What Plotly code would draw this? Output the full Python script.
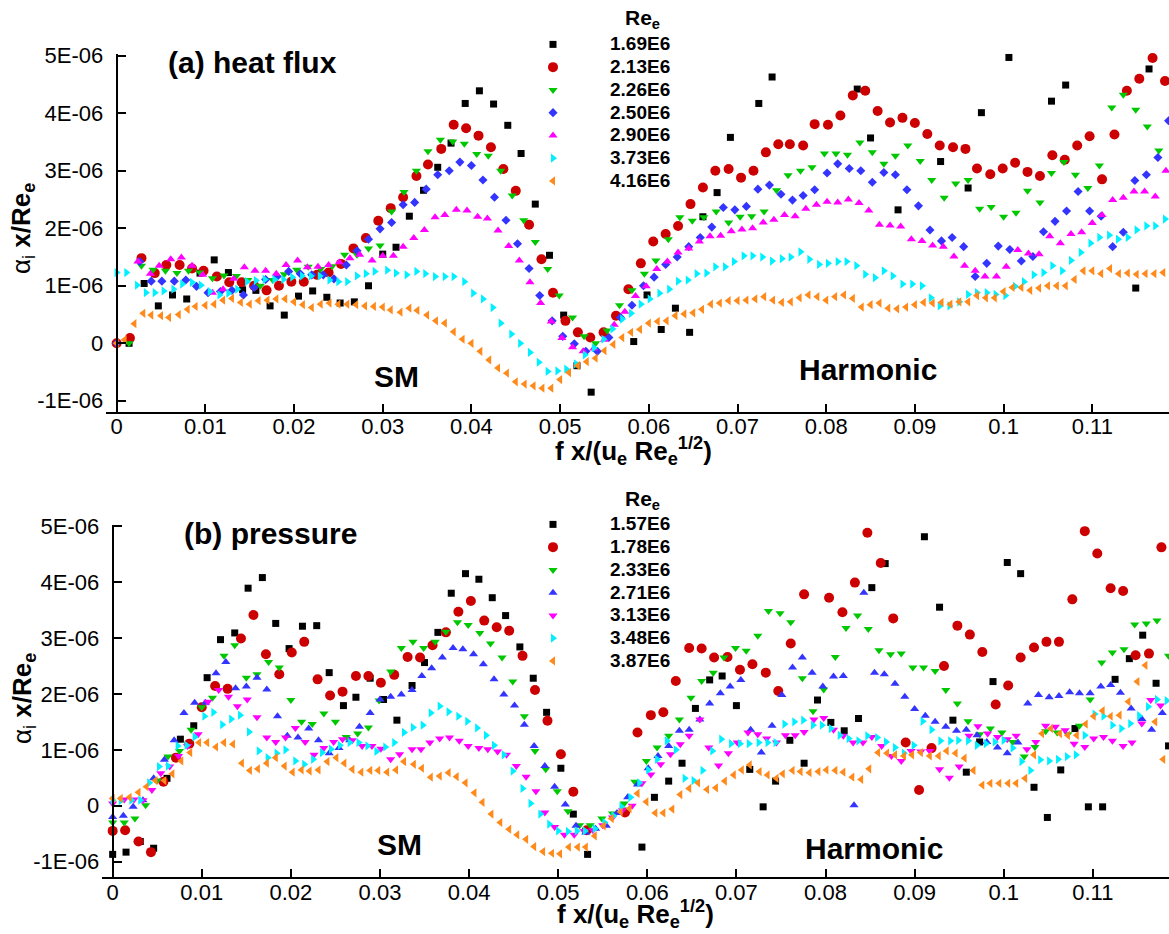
import plotly.graph_objects as go

XS = 1e-2   # frequency values below are stored in units of 0.01
YS = 1e-6   # growth-rate values below are stored in units of 1E-06

# ---------------- (a) heat flux ----------------
hf_169_x = [0.14, 0.31, 0.47, 0.63, 0.79, 0.94, 1.10, 1.26, 1.42, 1.57, 1.73, 1.89, 2.05, 2.21, 2.37, 2.52, 2.68, 2.84, 3.00, 3.15,
            3.30, 3.46, 3.62, 3.77, 3.93, 4.09, 4.25, 4.41, 4.56, 4.72, 4.88, 5.04, 5.19, 5.35, 5.83, 5.98, 6.14, 6.30, 6.46, 6.61,
            6.77, 6.92, 7.24, 7.39, 8.35, 8.50, 8.81, 9.29, 9.60, 9.75, 10.06, 10.54, 10.70, 11.49, 11.64]
hf_169_y = [0.00, 1.04, 0.65, 0.84, 0.77, 1.22, 1.45, 1.23, 0.93, 0.92, 0.65, 0.49, 0.82, 0.91, 0.80, 0.70, 0.72, 1.00, 1.55, 1.67,
            2.21, 2.66, 3.06, 3.48, 4.17, 4.39, 4.16, 3.79, 3.30, 2.42, 1.53, 0.49, -0.39, -0.85, 0.03, 0.84, 0.24, 0.61, 0.19, 2.20,
            2.62, 3.58, 4.17, 4.63, 4.42, 3.57, 2.32, 3.16, 2.70, 4.01, 4.97, 4.21, 4.49, 0.96, 4.77]

hf_213_x = [0.00, 0.15, 0.28, 0.43, 0.56, 0.71, 0.85, 0.98, 1.13, 1.27, 1.41, 1.55, 1.69, 1.83, 1.97, 2.11, 2.26, 2.39, 2.53, 2.67,
            2.81, 2.95, 3.09, 3.23, 3.38, 3.51, 3.66, 3.80, 3.94, 4.08, 4.22, 4.36, 4.50, 4.65, 4.79, 4.92, 5.06, 5.20, 5.34, 5.49,
            5.63, 5.77, 5.91, 6.05, 6.19, 6.33, 6.47, 6.61, 6.75, 6.90, 7.04, 7.18, 7.32, 7.46, 7.59, 7.74, 7.87, 8.02, 8.16, 8.30,
            8.44, 8.58, 8.72, 8.86, 9.00, 9.14, 9.28, 9.43, 9.57, 9.70, 9.85, 9.99, 10.13, 10.27, 10.41, 10.55, 10.69, 10.83, 10.97, 11.11,
            11.25, 11.39, 11.53, 11.68, 11.82]
hf_213_y = [0.00, 0.09, 1.48, 1.22, 1.36, 1.36, 1.30, 1.26, 1.16, 1.06, 1.06, 1.00, 0.92, 1.00, 1.07, 1.07, 1.19, 1.23, 1.38, 1.65,
            1.83, 2.13, 2.35, 2.54, 2.91, 3.11, 3.38, 3.80, 3.74, 3.61, 3.41, 3.03, 2.65, 2.06, 1.46, 0.88, 0.39, 0.19, 0.10, 0.19,
            0.48, 0.94, 1.39, 1.77, 1.90, 2.04, 2.42, 2.71, 3.00, 3.03, 2.88, 3.00, 3.32, 3.46, 3.46, 3.44, 3.81, 3.80, 3.96, 4.31,
            4.39, 4.04, 3.84, 3.92, 3.83, 3.64, 3.44, 3.41, 3.38, 3.04, 2.94, 3.04, 3.14, 2.98, 2.91, 3.27, 3.19, 3.44, 3.60, 2.85,
            3.63, 4.39, 4.60, 4.96, 4.56]

hf_226_x = [0.14, 0.28, 0.41, 0.55, 0.68, 0.81, 0.94, 1.08, 1.21, 1.35, 1.48, 1.62, 1.76, 1.89, 2.03, 2.16, 2.30, 2.43, 2.57, 2.71,
            2.84, 2.97, 3.10, 3.24, 3.38, 3.51, 3.65, 3.79, 3.92, 4.06, 4.19, 4.33, 4.46, 4.59, 4.72, 4.86, 4.99, 5.14, 5.27, 5.40,
            5.53, 5.67, 5.81, 5.95, 6.08, 6.22, 6.35, 6.49, 6.62, 6.76, 6.90, 7.03, 7.16, 7.30, 7.44, 7.57, 7.71, 7.84, 7.98, 8.11,
            8.24, 8.38, 8.52, 8.65, 8.78, 8.92, 9.06, 9.19, 9.33, 9.46, 9.60, 9.73, 9.86, 10.00, 10.14, 10.27, 10.41, 10.54, 10.68, 10.81,
            10.95, 11.08, 11.22, 11.35, 11.49, 11.62, 11.75]
hf_226_y = [0.00, 1.35, 1.28, 1.26, 1.22, 1.26, 1.23, 1.13, 1.18, 1.17, 1.10, 1.00, 1.10, 1.20, 1.28, 1.33, 1.29, 1.34, 1.54, 1.54,
            1.65, 1.70, 2.29, 2.63, 3.00, 3.34, 3.54, 3.51, 3.47, 3.29, 3.26, 3.00, 2.57, 2.14, 1.76, 1.29, 0.83, 0.45, 0.12, 0.00,
            0.22, 0.66, 0.92, 1.21, 1.44, 1.81, 2.19, 2.13, 2.19, 2.29, 2.10, 2.20, 2.21, 2.29, 2.66, 2.92, 3.00, 3.06, 3.30, 3.30,
            3.28, 3.49, 3.32, 3.12, 3.26, 3.44, 3.17, 2.84, 2.53, 2.78, 2.84, 2.34, 2.37, 2.20, 2.27, 2.65, 2.45, 2.96, 3.15, 2.93,
            2.70, 3.09, 4.10, 4.32, 4.06, 3.77, 3.35]

hf_250_x = [0.00, 0.26, 0.39, 0.51, 0.65, 0.78, 0.90, 1.03, 1.17, 1.30, 1.43, 1.55, 1.68, 1.81, 1.94, 2.07, 2.20, 2.33, 2.45, 2.59,
            2.71, 2.84, 2.97, 3.10, 3.23, 3.36, 3.49, 3.62, 3.75, 3.87, 4.00, 4.13, 4.26, 4.39, 4.52, 4.65, 4.77, 4.91, 5.03, 5.16,
            5.29, 5.42, 5.55, 5.68, 5.81, 5.94, 6.06, 6.19, 6.32, 6.45, 6.58, 6.71, 6.84, 6.97, 7.10, 7.23, 7.36, 7.49, 7.62, 7.74,
            7.87, 8.01, 8.13, 8.26, 8.39, 8.52, 8.65, 8.78, 8.91, 9.04, 9.17, 9.30, 9.42, 9.55, 9.68, 9.81, 9.94, 10.07, 10.20, 10.33,
            10.45, 10.58, 10.71, 10.84, 10.97, 11.10, 11.23, 11.35, 11.48, 11.61, 11.74, 11.86]
hf_250_y = [0.00, 1.42, 1.08, 1.08, 1.08, 1.10, 0.99, 0.88, 0.90, 0.92, 0.84, 0.97, 1.11, 1.16, 1.25, 1.21, 1.19, 1.19, 1.12, 1.36,
            1.61, 1.81, 1.99, 2.10, 2.41, 2.45, 2.68, 2.93, 3.00, 3.15, 3.09, 2.84, 2.54, 2.14, 1.73, 1.30, 0.83, 0.39, 0.12, -0.01,
            -0.14, -0.14, 0.10, 0.45, 0.66, 1.00, 1.15, 1.37, 1.50, 1.68, 1.84, 2.02, 2.36, 2.32, 2.38, 2.68, 2.75, 2.59, 2.49, 2.57,
            2.67, 2.96, 3.12, 3.04, 3.00, 2.80, 2.97, 2.93, 2.67, 2.39, 1.97, 1.78, 1.84, 1.68, 1.16, 1.39, 1.69, 1.63, 1.43, 1.51,
            1.94, 2.12, 2.30, 2.64, 2.30, 2.21, 1.68, 1.93, 2.83, 2.93, 3.23, 3.87]

hf_290_x = [0.24, 0.38, 0.48, 0.61, 0.73, 0.85, 0.97, 1.08, 1.20, 1.32, 1.44, 1.56, 1.68, 1.80, 1.91, 2.04, 2.15, 2.27, 2.39, 2.51,
            2.63, 2.74, 2.88, 3.00, 3.12, 3.23, 3.35, 3.47, 3.59, 3.70, 3.83, 3.95, 4.07, 4.18, 4.30, 4.42, 4.54, 4.66, 4.78, 4.90,
            5.02, 5.14, 5.26, 5.38, 5.50, 5.61, 5.73, 5.85, 5.97, 6.09, 6.21, 6.33, 6.45, 6.57, 6.69, 6.81, 6.93, 7.05, 7.17, 7.29,
            7.41, 7.53, 7.65, 7.77, 7.89, 8.01, 8.13, 8.25, 8.37, 8.48, 8.60, 8.72, 8.84, 8.96, 9.08, 9.20, 9.32, 9.44, 9.56, 9.68,
            9.79, 9.92, 10.03, 10.16, 10.28, 10.40, 10.52, 10.64, 10.76, 10.88, 11.00, 11.11, 11.23, 11.35, 11.47, 11.59, 11.71, 11.83]
hf_290_y = [1.42, 1.21, 1.35, 1.46, 1.49, 1.35, 1.19, 0.88, 0.94, 1.12, 1.32, 1.26, 1.26, 1.21, 1.36, 1.44, 1.32, 1.33, 1.36, 1.41,
            1.48, 1.54, 1.44, 1.52, 1.52, 1.68, 1.83, 1.97, 2.19, 2.23, 2.32, 2.31, 2.20, 2.17, 1.96, 1.69, 1.44, 1.06, 0.70, 0.38,
            0.09, -0.07, -0.14, -0.09, 0.06, 0.32, 0.55, 0.82, 0.99, 1.29, 1.42, 1.58, 1.65, 1.77, 1.86, 1.87, 1.95, 1.98, 2.00, 2.10,
            2.15, 2.23, 2.21, 2.34, 2.41, 2.46, 2.45, 2.50, 2.44, 2.31, 2.06, 2.05, 2.03, 1.81, 1.78, 1.70, 1.68, 1.51, 1.35, 1.26,
            1.16, 1.16, 1.33, 1.62, 1.56, 1.55, 1.86, 1.74, 1.90, 1.93, 2.09, 2.23, 2.49, 2.53, 2.64, 2.64, 2.55, 3.00]

hf_373_x = [0.00, 0.11, 0.23, 0.33, 0.43, 0.53, 0.64, 0.74, 0.85, 0.95, 1.05, 1.16, 1.26, 1.36, 1.47, 1.57, 1.67, 1.78, 1.88, 1.98,
            2.09, 2.19, 2.29, 2.40, 2.50, 2.60, 2.71, 2.81, 2.91, 3.05, 3.15, 3.27, 3.38, 3.48, 3.59, 3.70, 3.80, 3.92, 4.02, 4.13,
            4.24, 4.33, 4.45, 4.55, 4.66, 4.76, 4.86, 4.97, 5.07, 5.18, 5.28, 5.38, 5.49, 5.59, 5.70, 5.80, 5.91, 6.01, 6.12, 6.23,
            6.33, 6.44, 6.54, 6.65, 6.75, 6.86, 6.96, 7.07, 7.17, 7.28, 7.39, 7.50, 7.60, 7.71, 7.81, 7.92, 8.02, 8.13, 8.23, 8.34,
            8.44, 8.55, 8.65, 8.75, 8.86, 8.97, 9.08, 9.18, 9.28, 9.39, 9.50, 9.60, 9.70, 9.81, 9.91, 10.02, 10.13, 10.23, 10.34, 10.45,
            10.55, 10.66, 10.76, 10.87, 10.98, 11.08, 11.19, 11.29, 11.40, 11.50, 11.61, 11.71, 11.82]
hf_373_y = [1.23, 1.23, 1.01, 0.88, 0.88, 0.91, 0.94, 1.03, 1.06, 1.01, 0.90, 0.84, 0.87, 0.94, 1.07, 1.09, 1.11, 1.11, 1.11, 1.15,
            1.17, 1.17, 1.17, 1.10, 1.07, 1.07, 1.17, 1.21, 1.25, 1.27, 1.22, 1.19, 1.25, 1.21, 1.16, 1.16, 1.16, 1.07, 0.87, 0.77,
            0.62, 0.35, 0.16, 0.00, -0.16, -0.33, -0.49, -0.48, -0.45, -0.36, -0.20, -0.08, 0.07, 0.25, 0.42, 0.52, 0.68, 0.77, 0.87, 0.94,
            1.08, 1.10, 1.21, 1.22, 1.33, 1.33, 1.42, 1.52, 1.52, 1.50, 1.43, 1.47, 1.50, 1.59, 1.46, 1.37, 1.39, 1.42, 1.42, 1.35,
            1.20, 1.14, 1.26, 1.17, 1.03, 1.03, 1.00, 0.79, 0.65, 0.65, 0.72, 0.85, 0.88, 0.88, 0.85, 0.83, 0.99, 1.07, 1.19, 1.23,
            1.35, 1.26, 1.44, 1.58, 1.74, 1.84, 1.88, 1.81, 1.84, 1.97, 2.04, 2.04, 2.16]

hf_416_x = [0.00, 0.09, 0.20, 0.30, 0.39, 0.50, 0.59, 0.70, 0.80, 0.89, 1.00, 1.10, 1.20, 1.30, 1.40, 1.50, 1.60, 1.70, 1.80, 1.90,
            2.00, 2.10, 2.20, 2.30, 2.40, 2.50, 2.60, 2.70, 2.80, 2.90, 3.00, 3.09, 3.20, 3.30, 3.39, 3.50, 3.60, 3.70, 3.80, 3.90,
            4.00, 4.10, 4.20, 4.30, 4.40, 4.50, 4.60, 4.70, 4.80, 4.90, 5.00, 5.10, 5.20, 5.30, 5.40, 5.50, 5.60, 5.70, 5.80, 5.90,
            6.00, 6.10, 6.20, 6.30, 6.40, 6.50, 6.60, 6.70, 6.80, 6.90, 7.00, 7.10, 7.20, 7.30, 7.40, 7.50, 7.60, 7.70, 7.80, 7.90,
            8.00, 8.10, 8.20, 8.30, 8.40, 8.50, 8.60, 8.70, 8.80, 8.90, 9.00, 9.10, 9.20, 9.30, 9.40, 9.50, 9.60, 9.70, 9.80, 9.90,
            10.00, 10.10, 10.20, 10.30, 10.40, 10.50, 10.60, 10.70, 10.80, 10.90, 11.00, 11.10, 11.20, 11.30, 11.40, 11.50, 11.60, 11.70, 11.80]
hf_416_y = [0.00, 0.06, 0.34, 0.52, 0.49, 0.48, 0.45, 0.50, 0.59, 0.64, 0.66, 0.68, 0.75, 0.78, 0.71, 0.68, 0.74, 0.75, 0.77, 0.77,
            0.72, 0.67, 0.62, 0.68, 0.70, 0.68, 0.68, 0.67, 0.65, 0.64, 0.63, 0.58, 0.54, 0.61, 0.57, 0.49, 0.39, 0.35, 0.20, 0.07,
            0.00, -0.14, -0.29, -0.43, -0.52, -0.67, -0.71, -0.74, -0.78, -0.78, -0.63, -0.51, -0.39, -0.32, -0.26, -0.13, -0.02, 0.10, 0.19, 0.24,
            0.35, 0.38, 0.39, 0.48, 0.51, 0.53, 0.59, 0.68, 0.70, 0.74, 0.74, 0.75, 0.77, 0.81, 0.75, 0.71, 0.72, 0.79, 0.84, 0.81,
            0.75, 0.81, 0.84, 0.78, 0.63, 0.67, 0.70, 0.61, 0.60, 0.63, 0.67, 0.71, 0.70, 0.71, 0.68, 0.72, 0.72, 0.83, 0.79, 0.79,
            0.90, 0.97, 0.97, 0.92, 0.96, 1.00, 1.00, 1.00, 1.11, 1.26, 1.26, 1.21, 1.30, 1.21, 1.22, 1.20, 1.21, 1.21, 1.23]

# ---------------- (b) pressure ----------------
pr_157_x = [0.00, 0.15, 0.31, 0.46, 0.61, 0.76, 0.91, 1.06, 1.21, 1.37, 1.52, 1.68, 1.83, 1.98, 2.13, 2.29, 2.43, 2.59, 2.73, 2.89,
            3.04, 3.19, 3.36, 3.50, 3.65, 3.80, 3.96, 4.11, 4.26, 4.41, 4.57, 4.72, 4.87, 5.03, 5.17, 5.33, 5.94, 6.08, 6.24, 6.39,
            6.54, 6.70, 6.84, 7.00, 7.15, 7.30, 7.44, 7.60, 7.76, 7.91, 8.06, 8.21, 8.37, 8.52, 8.67, 9.11, 9.28, 9.43, 9.58, 9.73,
            9.88, 10.04, 10.19, 10.34, 10.49, 10.64, 10.80, 10.95, 11.11, 11.25, 11.41, 11.56, 11.71, 11.85]
pr_157_y = [-0.87, -0.83, -0.64, -0.76, 0.49, 1.19, 1.43, 2.29, 2.97, 3.09, 3.89, 4.08, 3.26, 2.81, 3.21, 3.22, 2.38, 1.79, 1.94, 2.28,
            1.90, 1.53, 2.15, 2.56, 3.10, 3.80, 4.15, 4.05, 3.72, 3.40, 2.84, 2.28, 1.67, 0.67, -0.15, -0.87, -0.74, 0.15, 0.44, 0.76,
            1.74, 2.25, 2.32, 1.79, 0.65, -0.02, 0.44, 1.17, 0.76, 1.89, 1.49, 1.34, 1.56, 3.90, 4.33, 4.81, 3.55, 1.53, 0.60, 1.14,
            2.22, 4.35, 4.15, 0.33, -0.21, 0.64, 1.38, -0.02, -0.02, 2.26, 2.63, 3.05, 2.19, 1.07]

pr_178_x = [0.00, 0.14, 0.29, 0.43, 0.57, 0.71, 0.86, 1.00, 1.15, 1.29, 1.44, 1.58, 1.72, 1.87, 2.01, 2.15, 2.30, 2.44, 2.58, 2.73,
            2.87, 3.01, 3.16, 3.31, 3.45, 3.59, 3.74, 3.88, 4.02, 4.17, 4.31, 4.45, 4.60, 4.74, 4.88, 5.03, 5.17, 5.32, 5.75, 5.89,
            6.04, 6.18, 6.32, 6.47, 6.61, 6.75, 6.90, 7.04, 7.18, 7.33, 7.47, 7.61, 7.76, 8.04, 8.19, 8.33, 8.47, 8.62, 8.76, 8.90,
            9.05, 9.19, 9.33, 9.48, 9.62, 9.76, 9.91, 10.05, 10.19, 10.34, 10.48, 10.62, 10.77, 10.91, 11.05, 11.20, 11.34, 11.48, 11.63, 11.77]
pr_178_y = [-0.45, -0.44, -0.64, -0.83, 0.43, 0.86, 1.11, 1.76, 2.14, 2.09, 2.99, 3.41, 2.71, 2.35, 2.74, 2.93, 2.26, 1.97, 2.04, 2.32,
            2.32, 2.20, 2.34, 2.66, 2.65, 2.87, 3.10, 3.47, 3.66, 3.31, 3.19, 3.13, 2.68, 2.07, 1.52, 0.92, 0.25, -0.44, -0.12, 1.31,
            1.62, 1.67, 2.23, 2.82, 2.81, 2.65, 2.66, 2.43, 2.53, 2.38, 2.05, 2.90, 3.78, 3.72, 3.46, 3.99, 4.88, 4.34, 3.35, 1.13,
            0.28, 1.03, 2.50, 3.22, 3.06, 2.75, 1.81, 2.15, 2.65, 2.83, 2.93, 2.93, 3.69, 4.91, 4.51, 3.89, 3.84, 2.69, 2.72, 4.62]

pr_233_x = [0.00, 0.13, 0.25, 0.37, 0.50, 0.62, 0.75, 0.88, 1.00, 1.12, 1.25, 1.37, 1.50, 1.62, 1.75, 1.87, 2.00, 2.12, 2.24, 2.37,
            2.50, 2.62, 2.75, 2.87, 2.99, 3.12, 3.24, 3.37, 3.49, 3.62, 3.74, 3.87, 3.99, 4.12, 4.24, 4.37, 4.49, 4.62, 4.74, 4.86,
            4.99, 5.11, 5.24, 5.36, 5.49, 5.61, 5.74, 5.86, 5.99, 6.11, 6.24, 6.36, 6.49, 6.61, 6.74, 6.86, 6.99, 7.11, 7.24, 7.36,
            7.49, 7.61, 7.74, 7.86, 7.98, 8.11, 8.23, 8.36, 8.48, 8.60, 8.73, 8.85, 8.98, 9.10, 9.23, 9.35, 9.48, 9.60, 9.73, 9.85,
            9.98, 10.10, 10.23, 10.35, 10.47, 10.60, 10.72, 10.85, 10.97, 11.10, 11.22, 11.35, 11.47, 11.60, 11.72, 11.85]
pr_233_y = [-0.30, -0.30, -0.23, 0.01, 0.45, 0.88, 0.98, 1.36, 1.76, 1.93, 2.68, 2.87, 2.29, 2.35, 2.57, 2.47, 1.89, 1.50, 1.46, 1.65,
            1.50, 1.23, 1.29, 1.40, 1.88, 2.40, 2.82, 2.93, 2.82, 2.93, 3.11, 3.28, 3.23, 3.09, 2.90, 2.65, 2.22, 1.60, 0.98, 0.65,
            0.26, -0.10, -0.35, -0.35, -0.23, -0.14, 0.04, 0.43, 0.80, 1.04, 1.25, 1.54, 1.93, 2.23, 2.38, 2.65, 2.82, 2.77, 3.04, 3.48,
            3.44, 3.28, 2.28, 1.69, 2.08, 2.66, 3.18, 3.40, 3.16, 2.78, 2.71, 2.72, 2.47, 2.47, 2.41, 2.07, 1.83, 1.51, 1.28, 1.38,
            1.31, 1.14, 0.88, 1.05, 1.33, 1.31, 1.28, 1.43, 1.90, 2.56, 2.74, 2.80, 3.24, 3.26, 3.31, 2.68]

pr_271_x = [0.00, 0.12, 0.23, 0.34, 0.46, 0.58, 0.69, 0.80, 0.92, 1.04, 1.16, 1.27, 1.38, 1.50, 1.62, 1.73, 1.85, 1.96, 2.08, 2.20,
            2.31, 2.43, 2.54, 2.66, 2.77, 2.89, 3.00, 3.12, 3.24, 3.36, 3.47, 3.58, 3.70, 3.82, 3.93, 4.05, 4.16, 4.28, 4.39, 4.51,
            4.62, 4.73, 4.85, 4.96, 5.08, 5.20, 5.31, 5.42, 5.54, 5.66, 5.78, 5.89, 6.01, 6.12, 6.24, 6.36, 6.47, 6.59, 6.70, 6.82,
            6.93, 7.05, 7.16, 7.28, 7.40, 7.51, 7.63, 7.74, 7.85, 7.97, 8.09, 8.20, 8.32, 8.43, 8.55, 8.66, 8.78, 8.89, 9.00, 9.12,
            9.23, 9.35, 9.47, 9.58, 9.70, 9.81, 9.93, 10.04, 10.16, 10.27, 10.39, 10.51, 10.62, 10.74, 10.85, 10.97, 11.09, 11.20, 11.31, 11.43,
            11.55, 11.66, 11.78]
pr_271_y = [-0.20, -0.18, -0.02, 0.10, 0.49, 0.82, 1.17, 1.66, 1.84, 1.84, 2.37, 2.57, 2.10, 2.13, 2.29, 2.08, 1.60, 1.25, 1.22, 1.38,
            1.17, 0.94, 1.03, 1.17, 1.41, 1.66, 1.90, 1.95, 1.99, 2.07, 2.32, 2.46, 2.65, 2.82, 2.80, 2.71, 2.53, 2.26, 1.99, 1.79,
            1.45, 1.07, 0.71, 0.34, 0.02, -0.36, -0.48, -0.41, -0.36, -0.13, 0.15, 0.38, 0.67, 0.89, 1.07, 1.34, 1.36, 1.54, 1.83, 2.01,
            2.13, 2.25, 1.36, 0.95, 1.43, 1.98, 2.47, 2.65, 2.38, 2.13, 2.31, 2.32, 0.01, 3.81, 2.38, 2.35, 2.18, 1.95, 1.73, 1.61,
            1.50, 1.41, 1.34, 1.36, 1.26, 1.14, 1.04, 0.94, 1.13, 1.83, 1.98, 1.94, 1.96, 2.03, 2.01, 2.01, 2.13, 2.16, 2.02, 1.74,
            1.55, 1.36, 1.66]

pr_313_x = [0.00, 0.13, 0.24, 0.34, 0.44, 0.54, 0.64, 0.74, 0.84, 0.96, 1.07, 1.19, 1.30, 1.40, 1.51, 1.62, 1.73, 1.83, 1.94, 2.05,
            2.16, 2.26, 2.37, 2.48, 2.58, 2.69, 2.80, 2.91, 3.01, 3.12, 3.22, 3.36, 3.46, 3.56, 3.67, 3.78, 3.89, 3.99, 4.11, 4.21,
            4.32, 4.42, 4.53, 4.64, 4.75, 4.85, 4.96, 5.07, 5.18, 5.29, 5.39, 5.50, 5.61, 5.72, 5.83, 5.94, 6.04, 6.15, 6.26, 6.37,
            6.47, 6.59, 6.69, 6.80, 6.91, 7.01, 7.13, 7.24, 7.34, 7.45, 7.55, 7.66, 7.76, 7.87, 7.98, 8.09, 8.20, 8.31, 8.42, 8.52,
            8.63, 8.74, 8.85, 8.96, 9.07, 9.17, 9.28, 9.39, 9.50, 9.61, 9.71, 9.82, 9.93, 10.04, 10.14, 10.26, 10.36, 10.47, 10.58, 10.69,
            10.79, 10.91, 11.01, 11.12, 11.22, 11.34, 11.44, 11.55, 11.65, 11.76, 11.86]
pr_313_y = [0.04, 0.11, 0.11, 0.10, 0.28, 0.58, 0.70, 0.89, 1.07, 1.28, 1.86, 2.07, 1.95, 1.78, 1.90, 1.58, 1.22, 1.14, 1.22, 1.39,
            1.14, 0.91, 1.03, 1.14, 1.19, 1.17, 1.07, 1.07, 1.02, 0.83, 0.92, 1.01, 1.01, 1.13, 1.20, 1.22, 1.16, 1.07, 1.03, 1.01,
            0.97, 0.91, 0.71, 0.52, 0.26, -0.12, -0.38, -0.52, -0.52, -0.45, -0.44, -0.35, -0.21, -0.08, 0.00, 0.40, 0.56, 0.74, 0.92, 1.10,
            1.25, 1.54, 1.04, 0.72, 0.94, 1.13, 1.31, 1.28, 1.20, 1.13, 1.26, 1.26, 1.32, 1.54, 1.57, 1.36, 1.25, 1.13, 1.13, 1.23,
            1.07, 0.89, 0.80, 0.98, 0.97, 0.98, 0.65, 0.50, 0.70, 1.25, 1.42, 1.29, 1.23, 1.19, 1.25, 1.01, 1.14, 1.43, 1.41, 1.35,
            1.11, 1.05, 1.20, 1.23, 1.16, 1.07, 1.13, 1.47, 1.89, 1.79, 1.53]

pr_348_x = [0.00, 0.09, 0.21, 0.31, 0.41, 0.52, 0.62, 0.73, 0.83, 0.92, 1.03, 1.13, 1.23, 1.33, 1.43, 1.53, 1.64, 1.74, 1.84, 1.94,
            2.05, 2.15, 2.25, 2.35, 2.45, 2.55, 2.66, 2.76, 2.86, 2.96, 3.06, 3.16, 3.27, 3.37, 3.48, 3.57, 3.67, 3.77, 3.88, 3.98,
            4.09, 4.19, 4.28, 4.39, 4.49, 4.60, 4.69, 4.80, 4.90, 5.00, 5.11, 5.21, 5.30, 5.41, 5.52, 5.62, 5.71, 5.81, 5.91, 6.01,
            6.11, 6.22, 6.32, 6.42, 6.52, 6.62, 6.73, 6.83, 6.94, 7.04, 7.14, 7.25, 7.35, 7.44, 7.54, 7.65, 7.75, 7.86, 7.96, 8.06,
            8.16, 8.26, 8.37, 8.47, 8.58, 8.68, 8.78, 8.88, 8.99, 9.09, 9.19, 9.29, 9.40, 9.49, 9.60, 9.70, 9.80, 9.90, 10.00, 10.10,
            10.20, 10.30, 10.41, 10.51, 10.61, 10.71, 10.81, 10.91, 11.02, 11.12, 11.22, 11.32, 11.42, 11.52, 11.62, 11.72, 11.83]
pr_348_y = [0.10, 0.09, 0.10, 0.10, 0.41, 0.70, 0.71, 1.07, 1.08, 1.23, 1.60, 1.67, 1.45, 1.55, 1.62, 1.32, 0.98, 0.86, 0.94, 1.00,
            0.80, 0.74, 0.83, 0.95, 1.01, 1.08, 1.13, 1.13, 1.07, 0.97, 1.05, 1.13, 1.31, 1.40, 1.44, 1.66, 1.78, 1.68, 1.60, 1.51,
            1.39, 1.26, 1.08, 0.91, 0.62, 0.31, 0.04, -0.15, -0.33, -0.45, -0.46, -0.45, -0.45, -0.41, -0.30, -0.18, -0.02, 0.15, 0.41, 0.64,
            0.83, 1.16, 1.00, 0.49, 0.45, 0.63, 0.98, 1.19, 1.11, 1.11, 1.11, 1.13, 1.13, 1.13, 1.46, 1.50, 1.53, 1.44, 1.44, 1.38,
            1.26, 1.20, 1.16, 1.25, 1.22, 1.14, 1.04, 0.94, 1.08, 1.51, 1.36, 1.16, 1.16, 1.17, 1.16, 1.08, 1.11, 1.14, 1.17, 1.03,
            0.79, 0.63, 0.82, 0.80, 0.83, 0.88, 0.91, 1.26, 1.64, 1.60, 1.44, 1.38, 1.47, 1.61, 1.77, 1.90, 1.88]

pr_387_x = [0.00, 0.09, 0.19, 0.29, 0.38, 0.48, 0.58, 0.67, 0.77, 0.87, 0.97, 1.06, 1.16, 1.25, 1.35, 1.45, 1.54, 1.63, 1.73, 1.83,
            1.93, 2.02, 2.12, 2.21, 2.31, 2.41, 2.51, 2.60, 2.69, 2.79, 2.89, 2.98, 3.08, 3.18, 3.27, 3.38, 3.47, 3.57, 3.67, 3.77,
            3.86, 3.96, 4.06, 4.15, 4.25, 4.35, 4.45, 4.54, 4.64, 4.73, 4.83, 4.93, 5.02, 5.12, 5.22, 5.31, 5.41, 5.51, 5.60, 5.70,
            5.80, 5.89, 5.99, 6.09, 6.18, 6.28, 6.37, 6.47, 6.57, 6.67, 6.77, 6.87, 6.97, 7.06, 7.15, 7.26, 7.35, 7.45, 7.52, 7.63,
            7.72, 7.82, 7.92, 8.01, 8.11, 8.20, 8.30, 8.40, 8.49, 8.59, 8.69, 8.78, 8.88, 8.97, 9.07, 9.17, 9.27, 9.36, 9.46, 9.56,
            9.66, 9.76, 9.85, 9.95, 10.05, 10.14, 10.24, 10.34, 10.43, 10.53, 10.63, 10.72, 10.82, 10.92, 11.01, 11.11, 11.20, 11.30, 11.40, 11.50,
            11.59, 11.70, 11.79]
pr_387_y = [0.13, 0.13, 0.15, 0.24, 0.34, 0.45, 0.45, 0.57, 0.80, 0.95, 1.13, 1.13, 1.05, 1.13, 1.10, 0.76, 0.63, 0.66, 0.76, 0.86,
            0.71, 0.60, 0.64, 0.62, 0.64, 0.79, 0.86, 0.76, 0.65, 0.60, 0.63, 0.63, 0.60, 0.64, 0.79, 0.74, 0.67, 0.51, 0.53, 0.59,
            0.52, 0.41, 0.23, 0.06, -0.15, -0.30, -0.42, -0.52, -0.60, -0.73, -0.82, -0.85, -0.86, -0.74, -0.74, -0.74, -0.54, -0.36, -0.23, -0.11,
            -0.05, 0.22, 0.07, -0.13, -0.13, -0.06, 0.20, 0.31, 0.41, 0.29, 0.32, 0.44, 0.55, 0.64, 0.73, 0.61, 0.55, 0.49, 0.57, 0.63,
            0.61, 0.59, 0.61, 0.64, 0.63, 0.60, 0.51, 0.47, 0.66, 0.95, 0.94, 0.91, 0.89, 0.91, 0.95, 0.89, 0.89, 0.98, 0.94, 0.85,
            0.63, 0.37, 0.40, 0.40, 0.40, 0.40, 0.49, 0.91, 1.29, 1.38, 1.29, 1.26, 1.26, 1.46, 1.60, 1.70, 1.60, 1.62, 1.86, 2.22,
            2.51, 1.50, 0.83]

X_TICKS = [0.00, 0.01, 0.02, 0.03, 0.04, 0.05, 0.06, 0.07, 0.08, 0.09, 0.10, 0.11]
X_TICK_TEXT = ["0", "0.01", "0.02", "0.03", "0.04", "0.05", "0.06", "0.07", "0.08", "0.09", "0.1", "0.11"]
Y_TICKS = [-1e-6, 0.0, 1e-6, 2e-6, 3e-6, 4e-6, 5e-6]
Y_TICK_TEXT = ["-1E-06", "0", "1E-06", "2E-06", "3E-06", "4E-06", "5E-06"]

BLACK, RED, GREEN, BLUE = "#000000", "#cc0000", "#00c800", "#3434ff"
MAGENTA, CYAN, ORANGE = "#ff00ff", "#00f0ff", "#ff8a1c"

heat_series = [
    ("1.69E6", hf_169_x, hf_169_y, "square", BLACK, 7),
    ("2.13E6", hf_213_x, hf_213_y, "circle", RED, 10),
    ("2.26E6", hf_226_x, hf_226_y, "triangle-down", GREEN, 8),
    ("2.50E6", hf_250_x, hf_250_y, "diamond", BLUE, 7),
    ("2.90E6", hf_290_x, hf_290_y, "triangle-up", MAGENTA, 8),
    ("3.73E6", hf_373_x, hf_373_y, "triangle-right", CYAN, 8),
    ("4.16E6", hf_416_x, hf_416_y, "triangle-left", ORANGE, 8),
]
pressure_series = [
    ("1.57E6", pr_157_x, pr_157_y, "square", BLACK, 7),
    ("1.78E6", pr_178_x, pr_178_y, "circle", RED, 10),
    ("2.33E6", pr_233_x, pr_233_y, "triangle-down", GREEN, 8),
    ("2.71E6", pr_271_x, pr_271_y, "triangle-up", BLUE, 8),
    ("3.13E6", pr_313_x, pr_313_y, "triangle-down", MAGENTA, 8),
    ("3.48E6", pr_348_x, pr_348_y, "triangle-right", CYAN, 8),
    ("3.87E6", pr_387_x, pr_387_y, "triangle-left", ORANGE, 8),
]

W, H = 1169, 934
FONT = "Liberation Sans, Arial, Helvetica, sans-serif"

fig = go.Figure()


def add_panel(series, xa, ya, legend_id):
    for label, xs, ys, symbol, color, size in series:
        assert len(xs) == len(ys), label
        fig.add_trace(go.Scatter(
            x=[v * XS for v in xs], y=[v * YS for v in ys],
            mode="markers", xaxis=xa, yaxis=ya, legend=legend_id,
            name=f'<b><span style="font-size:19px">{label}</span></b>',
            marker=dict(symbol=symbol, color=color, size=size, line=dict(width=0)),
            cliponaxis=False,
        ))


add_panel(heat_series, "x", "y", "legend")
add_panel(pressure_series, "x2", "y2", "legend2")


def px_x(p):
    return p / W


def px_y(p):
    return 1 - p / H


axis_common = dict(
    showline=True, linecolor="black", linewidth=2,
    ticks="inside", ticklen=8, tickwidth=1.5, tickcolor="black",
    showgrid=False, zeroline=False, automargin=False,
    tickfont=dict(family=FONT, size=22, color="black"),
)
legend_common = dict(xanchor="left", yanchor="top", bgcolor="rgba(0,0,0,0)",
                     itemwidth=104, tracegroupgap=0,
                     font=dict(family=FONT, size=15.2, color="black"))

fig.update_layout(
    width=W, height=H, margin=dict(l=0, r=0, t=0, b=0, autoexpand=False),
    paper_bgcolor="white", plot_bgcolor="white",
    font=dict(family=FONT, color="black"),
    xaxis=dict(axis_common, domain=[px_x(106), 1], range=[-0.0012, 0.11865], anchor="y",
               tickvals=X_TICKS, ticktext=X_TICK_TEXT, ticklabelstandoff=-6),
    yaxis=dict(axis_common, domain=[px_y(412), px_y(54)], range=[-1.195e-6, 5.03e-6],
               anchor="free", position=px_x(116.7), tickvals=Y_TICKS, ticktext=Y_TICK_TEXT,
               ticklabelstandoff=8),
    xaxis2=dict(axis_common, domain=[px_x(101.7), 1], range=[-0.00123, 0.11855], anchor="y2",
                tickvals=X_TICKS, ticktext=X_TICK_TEXT, ticklabelstandoff=-6),
    yaxis2=dict(axis_common, domain=[px_y(877.3), px_y(525)], range=[-1.28e-6, 5.02e-6],
                anchor="free", position=px_x(112.7), tickvals=Y_TICKS, ticktext=Y_TICK_TEXT,
                ticklabelstandoff=8),
    legend=dict(legend_common, x=px_x(496), y=px_y(28)),
    legend2=dict(legend_common, x=px_x(496), y=px_y(508)),
)

# panel labels, regime labels, legend headers and axis titles
ann_font = dict(family=FONT, size=30, color="black")
title_font = dict(family=FONT, size=26, color="black")
head_font = dict(family=FONT, size=21, color="black")
x_title = "<b>f x/(u<sub>e</sub> Re<sub>e</sub><sup>1/2</sup>)</b>"
y_title = "α<sub>i</sub><b> x/Re<sub>e</sub></b>"
labels = [
    ("<b>(a) heat flux</b>", 252, 62, ann_font, 0),
    ("<b>SM</b>", 396, 377, ann_font, 0),
    ("<b>Harmonic</b>", 868, 369, ann_font, 0),
    ("<b>(b) pressure</b>", 270, 533, ann_font, 0),
    ("<b>SM</b>", 399, 844, ann_font, 0),
    ("<b>Harmonic</b>", 874, 848, ann_font, 0),
    ("<b>Re<sub>e</sub></b>", 642, 19, head_font, 0),
    ("<b>Re<sub>e</sub></b>", 642, 500, head_font, 0),
    (x_title, 633, 451, title_font, 0),
    (x_title, 635, 914, title_font, 0),
    (y_title, 23, 229, title_font, -90),
    (y_title, 23, 699, title_font, -90),
]
for text, px, py, font, angle in labels:
    fig.add_annotation(text=text, x=px_x(px), y=px_y(py), xref="paper", yref="paper",
                       showarrow=False, xanchor="center", yanchor="middle",
                       font=font, textangle=angle)

fig.write_html("out.html")
